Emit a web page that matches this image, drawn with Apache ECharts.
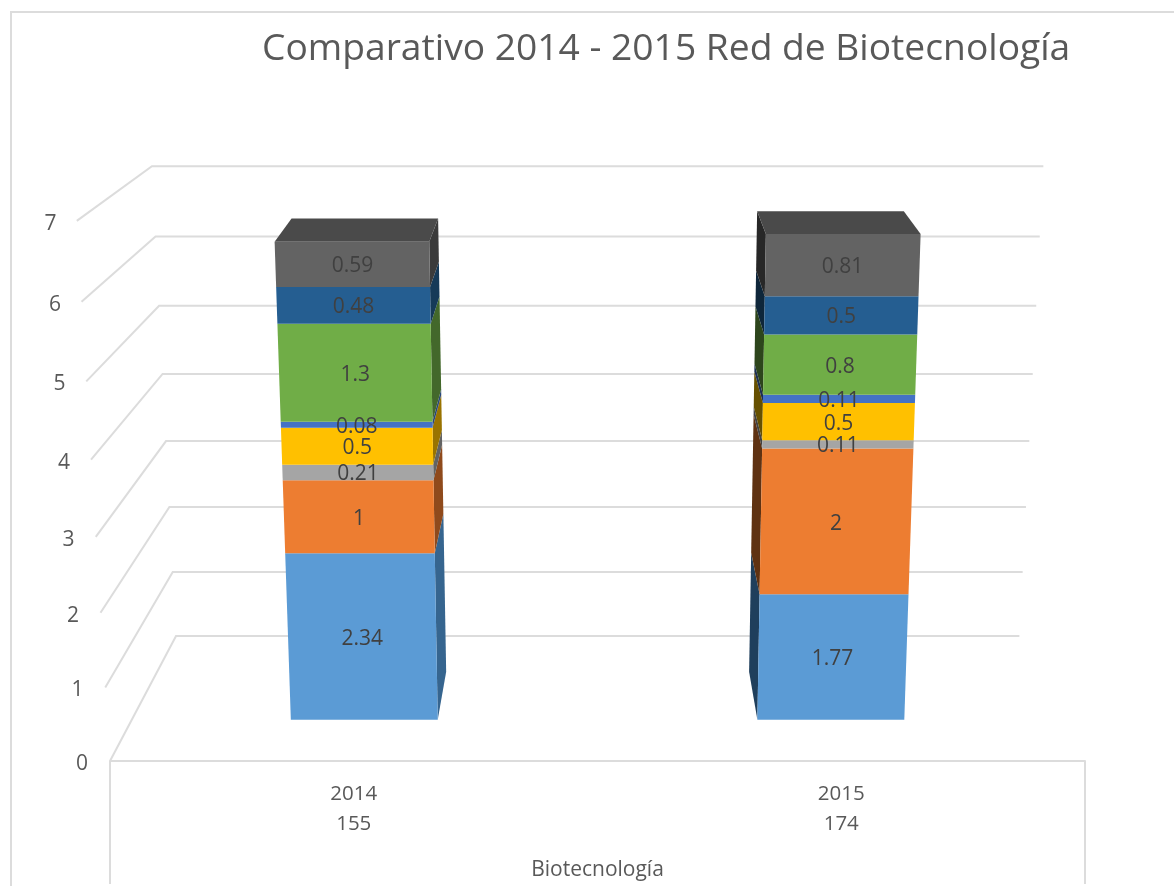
<!DOCTYPE html>
<html><head><meta charset="utf-8">
<style>html,body{margin:0;padding:0;background:#fff}#c{width:1174px;height:886px}</style>
<script src="https://cdn.jsdelivr.net/npm/echarts@6/dist/echarts.min.js"></script>
</head><body><div id="c"></div>
<script>
const categories = ['2014', '2015'];
const categoryTotals = ['155', '174'];
const tickLabels = [0, 1, 2, 3, 4, 5, 6, 7];
const seriesA = [2.34, 1.77];
const seriesB = [1, 2];
const seriesC = [0.21, 0.11];
const seriesD = [0.5, 0.5];
const seriesE = [0.08, 0.11];
const seriesF = [1.3, 0.8];
const seriesG = [0.48, 0.5];
const seriesH = [0.59, 0.81];
const stackValues = [seriesA, seriesB, seriesC, seriesD, seriesE, seriesF, seriesG, seriesH];
const frontColors = ['#5B9BD5', '#ED7D31', '#A5A5A5', '#FFC000', '#4472C4', '#70AD47', '#255E91', '#636363'];
const sideColors = ['#36658F', '#8F4A1C', '#636363', '#997300', '#284679', '#43682B', '#163A58', '#3B3B3B'];
const sideColorsLeft = ['#1F3F5C', '#5F3212', '#424242', '#665000', '#1C2F51', '#2D451C', '#0E263A', '#272727'];

// perspective of the 3-D scene
const VX = 599, VY = -200, K = 0.0077, KX_FRONT = 0.0097;
const S_BAR_FRONT = 0.957, S_BAR_BACK = 0.907, S_WALL = 0.87, S_WALL_X = 0.865;
const BAR_W = 153.5;

function project(api, cat, v, dx, s, kx, sx) {
  const c = api.coord([cat, v]);
  const floor = api.coord([cat, 0])[1];
  const x0 = c[0] + dx;
  const wy = 1 / (1 - K * v);
  const wx = kx ? 1 + kx * v : wy;
  const x = VX + (x0 - VX) * wx;
  const y = floor - (floor - c[1]) * wy;
  return [VX + (x - VX) * (sx || s), VY + (y - VY) * s];
}

function renderWall(params, api) {
  const v = api.value(0);
  const left = api.coord([0, 0])[0] - api.size([1, 0])[0] / 2;
  const right = left + api.size([1, 0])[0] * 2;
  const p = (xpx, s, kx, sx) => {
    const dx = xpx - api.coord([0, 0])[0];
    return project(api, 0, v, dx, s, kx, sx);
  };
  const a = p(left, 1, KX_FRONT), b = p(left, S_WALL, 0, S_WALL_X), c = p(right, S_WALL, 0, S_WALL_X);
  return {
    type: 'group',
    children: [
      { type: 'polyline', shape: { points: [a, b, c] }, z2: 1,
        style: { fill: 'none', stroke: '#DCDCDC', lineWidth: 2 } },
      { type: 'text', z2: 2, x: a[0] - 28 + v * 0.25, y: a[1] + 3,
        style: { text: String(v), font: '21px "Open Sans"', fill: '#595959', align: 'center', verticalAlign: 'middle' } }
    ]
  };
}

function makeBarRenderer(idx, last) {
  return function (params, api) {
    const cat = api.value(0), lo = api.value(1), hi = api.value(2), val = api.value(3);
    const f = (v, dx, s) => project(api, cat, v, dx, s);
    const h = BAR_W / 2;
    const side = cat === 0 ? h : -h;
    const children = [];
    children.push({ type: 'polygon', z2: 10 + idx,
      shape: { points: [f(lo, side, S_BAR_FRONT), f(lo, side, S_BAR_BACK), f(hi, side, S_BAR_BACK), f(hi, side, S_BAR_FRONT)] },
      style: { fill: cat === 0 ? sideColors[idx] : sideColorsLeft[idx] } });
    const fp = [f(lo, -h, S_BAR_FRONT), f(lo, h, S_BAR_FRONT), f(hi, h, S_BAR_FRONT), f(hi, -h, S_BAR_FRONT)];
    children.push({ type: 'polygon', z2: 30 + idx, shape: { points: fp }, style: { fill: frontColors[idx] } });
    if (last) {
      children.push({ type: 'polygon', z2: 30,
        shape: { points: [f(hi, -h, S_BAR_FRONT), f(hi, h, S_BAR_FRONT), f(hi, h, S_BAR_BACK), f(hi, -h, S_BAR_BACK)] },
        style: { fill: '#4A4A4A' } });
    }
    const mid = f((lo + hi) / 2, 0, S_BAR_FRONT);
    children.push({ type: 'text', z2: 60, x: mid[0], y: mid[1] + 2,
      style: { text: String(val), font: '21px "Open Sans"', fill: '#404040', align: 'center', verticalAlign: 'middle' } });
    return { type: 'group', children };
  };
}

const barSeries = stackValues.map((vals, idx) => {
  const data = vals.map((val, c) => {
    let lo = 0;
    for (let i = 0; i < idx; i++) lo += stackValues[i][c];
    return [c, lo, lo + val, val];
  });
  return {
    type: 'custom', name: 'Serie ' + (idx + 1), coordinateSystem: 'cartesian2d', clip: false, silent: true,
    encode: { x: 0, y: [1, 2] }, data, renderItem: makeBarRenderer(idx, idx === stackValues.length - 1), z: 5
  };
});

const chart = echarts.init(document.getElementById('c'), null, { renderer: 'canvas' });
chart.setOption({
  animation: false,
  backgroundColor: '#fff',
  title: {
    text: 'Comparativo 2014 - 2015 Red de Biotecnología',
    left: 257, top: 26,
    textStyle: { fontFamily: 'Open Sans', fontSize: 37.2, fontWeight: 'normal', color: '#595959' }
  },
  grid: { left: 110, right: 89, top: 250, bottom: 125 },
  xAxis: {
    type: 'category',
    data: categories.map((c, i) => c + '\n' + categoryTotals[i]),
    name: 'Biotecnología', nameLocation: 'middle', nameGap: 99,
    nameTextStyle: { fontFamily: 'Open Sans', fontSize: 21, color: '#595959' },
    axisLine: { show: true, lineStyle: { color: '#DCDCDC', width: 2 } },
    axisTick: { show: false },
    axisLabel: { fontFamily: 'Open Sans', fontSize: 20.5, color: '#595959', lineHeight: 30, margin: 18 },
    splitLine: { show: false }
  },
  yAxis: { type: 'value', min: 0, max: 7, interval: 1, show: false },
  series: [
    { type: 'custom', name: 'Ejes', coordinateSystem: 'cartesian2d', clip: false, silent: true, z: 1,
      encode: { y: 0 }, data: tickLabels.map(t => [t]), renderItem: renderWall },
    { type: 'custom', name: 'Marco', coordinateSystem: 'cartesian2d', clip: false, silent: true, z: 1,
      encode: { x: 0 }, data: [[0], [1]],
      renderItem: function (params, api) {
        const half = api.size([1, 0])[0] / 2;
        const c = api.coord([api.value(0), 0]);
        const x = api.value(0) === 0 ? c[0] - half : c[0] + half;
        return { type: 'line', shape: { x1: x, y1: c[1], x2: x, y2: c[1] + 123 },
          style: { stroke: '#DCDCDC', lineWidth: 2 } };
      } },
    ...barSeries
  ],
  graphic: [
    { type: 'polyline', shape: { points: [[11, 886], [11, 12], [1174, 12]] }, style: { fill: 'none', stroke: '#DCDCDC', lineWidth: 2 } }
  ]
});
</script></body></html>
